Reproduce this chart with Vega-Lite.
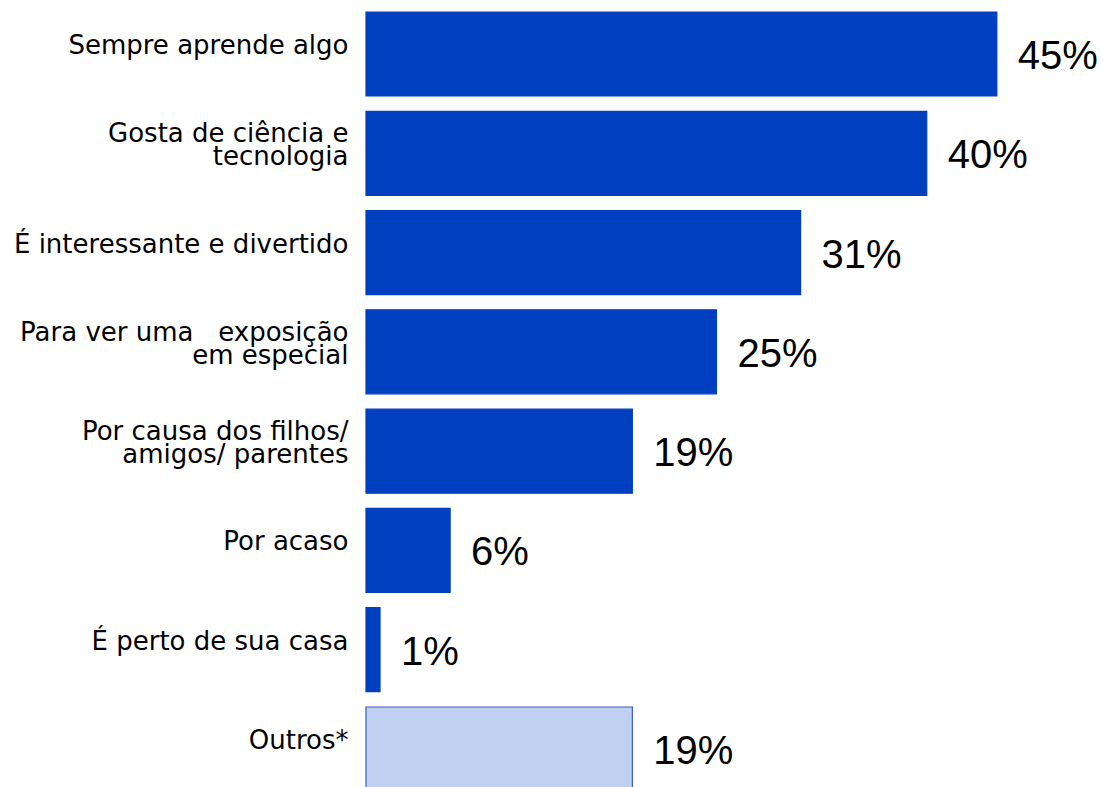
{
  "$schema": "https://vega.github.io/schema/vega-lite/v6.json",
  "width": 736,
  "height": 803,
  "autosize": {"type": "none"},
  "padding": {"left": 366, "top": 0, "right": 1, "bottom": 0},
  "background": "white",
  "config": {"view": {"stroke": null}},
  "data": {
    "values": [
      {"motivo": "Sempre aprende algo", "pct": 45, "tipo": "principal"},
      {"motivo": "Gosta de ciência e|tecnologia", "pct": 40, "tipo": "principal"},
      {"motivo": "É interessante e divertido", "pct": 31, "tipo": "principal"},
      {"motivo": "Para ver uma\u00a0\u00a0 exposição|em especial", "pct": 25, "tipo": "principal"},
      {"motivo": "Por causa dos filhos/|amigos/ parentes", "pct": 19, "tipo": "principal"},
      {"motivo": "Por acaso", "pct": 6, "tipo": "principal"},
      {"motivo": "É perto de sua casa", "pct": 1, "tipo": "principal"},
      {"motivo": "Outros*", "pct": 19, "tipo": "outros"}
    ]
  },
  "transform": [{"calculate": "format(datum.pct, '.0f') + '%'", "as": "rotulo"}],
  "encoding": {
    "y": {
      "field": "motivo",
      "type": "nominal",
      "sort": null,
      "scale": {"paddingInner": 0.154, "paddingOuter": 0.121},
      "axis": {
        "title": null,
        "domain": false,
        "ticks": false,
        "labelExpr": "split(datum.label, '|')",
        "labelFont": "DejaVu Sans",
        "labelFontSize": 26,
        "labelColor": "black",
        "labelLineHeight": 23,
        "labelPadding": 18,
        "labelOffset": {"condition": {"test": "indexof(datum.value, '|') >= 0", "value": -19}, "value": -8},
        "labelLimit": 400
      }
    },
    "x": {
      "field": "pct",
      "type": "quantitative",
      "scale": {"domain": [0, 52.5], "nice": false},
      "axis": null
    }
  },
  "layer": [
    {
      "mark": {"type": "bar", "strokeWidth": 1.2},
      "encoding": {
        "fill": {
          "field": "tipo",
          "type": "nominal",
          "scale": {"domain": ["principal", "outros"], "range": ["#0040C0", "#C0D0F0"]},
          "legend": null
        },
        "stroke": {
          "field": "tipo",
          "type": "nominal",
          "scale": {"domain": ["principal", "outros"], "range": ["#0040C0", "#3A5CC8"]},
          "legend": null
        }
      }
    },
    {
      "mark": {
        "type": "text",
        "align": "left",
        "baseline": "middle",
        "dx": 21,
        "dy": 3,
        "font": "Liberation Sans",
        "fontSize": 40,
        "color": "black"
      },
      "encoding": {
        "text": {"field": "rotulo", "type": "nominal"}
      }
    }
  ]
}
